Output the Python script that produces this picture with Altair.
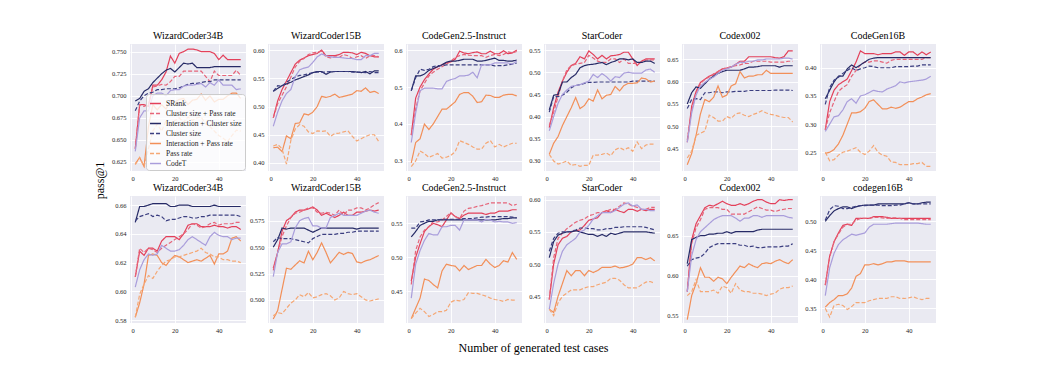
import altair as alt
import pandas as pd

X = [2, 4, 6, 8, 10, 12, 14, 16, 18, 20, 22, 24, 26, 28, 30, 32, 34, 36, 38, 40, 42, 44, 46, 48, 50]
METHODS = ["SRank", "Cluster size + Pass rate", "Interaction + Cluster size", "Cluster size",
           "Interaction + Pass rate", "Pass rate", "CodeT"]
COLORS = ["#e3405a", "#e66479", "#262a66", "#3b3e80", "#f28f58", "#f5a774", "#a99ddb"]
DASHES = [[1, 0], [4, 2], [1, 0], [4, 2], [1, 0], [4, 2], [1, 0]]

TOP_TITLES = ["WizardCoder34B", "WizardCoder15B", "CodeGen2.5-Instruct", "StarCoder", "Codex002", "CodeGen16B"]
BOTTOM_TITLES = ["WizardCoder34B", "WizardCoder15B", "CodeGen2.5-Instruct", "StarCoder", "Codex002", "codegen16B"]

X_TICKS = [0, 20, 40]
TOP_DOMAINS = [[0.6148, 0.7587], [0.3858, 0.6107], [0.2729, 0.6163], [0.2774, 0.5636], [0.401, 0.6834], [0.2168, 0.4421]]
BOTTOM_DOMAINS = [[0.578, 0.6663], [0.4782, 0.5983], [0.4034, 0.5902], [0.4086, 0.6057], [0.5408, 0.6996], [0.3247, 0.5437]]
TOP_TICKS = [[0.625, 0.65, 0.675, 0.7, 0.725, 0.75], [0.4, 0.45, 0.5, 0.55, 0.6], [0.3, 0.4, 0.5, 0.6],
             [0.3, 0.35, 0.4, 0.45, 0.5, 0.55], [0.45, 0.5, 0.55, 0.6, 0.65], [0.25, 0.3, 0.35, 0.4]]
BOTTOM_TICKS = [[0.58, 0.6, 0.62, 0.64, 0.66], [0.5, 0.525, 0.55, 0.575], [0.45, 0.5, 0.55],
                [0.45, 0.5, 0.55, 0.6], [0.55, 0.6, 0.65], [0.35, 0.4, 0.45, 0.5]]
TOP_FORMATS = [".3f", ".2f", ".1f", ".2f", ".2f", ".2f"]
BOTTOM_FORMATS = [".2f", ".3f", ".2f", ".2f", ".2f", ".2f"]

# ---- top row ----
WC34_TOP = {
    "SRank": [0.640, 0.690, 0.690, 0.688, 0.712, 0.712, 0.718, 0.727, 0.745, 0.737, 0.748, 0.750, 0.753, 0.753, 0.752, 0.750, 0.750, 0.750, 0.748, 0.741, 0.746, 0.741, 0.741, 0.741, 0.741],
    "Cluster size + Pass rate": [0.640, 0.690, 0.688, 0.690, 0.710, 0.711, 0.713, 0.712, 0.716, 0.722, 0.722, 0.728, 0.728, 0.728, 0.728, 0.728, 0.722, 0.716, 0.728, 0.723, 0.723, 0.723, 0.723, 0.729, 0.723],
    "Interaction + Cluster size": [0.694, 0.697, 0.705, 0.708, 0.715, 0.720, 0.725, 0.729, 0.731, 0.727, 0.732, 0.737, 0.736, 0.737, 0.732, 0.732, 0.732, 0.732, 0.733, 0.733, 0.733, 0.733, 0.733, 0.733, 0.733],
    "Cluster size": [0.683, 0.694, 0.700, 0.703, 0.704, 0.707, 0.707, 0.708, 0.708, 0.708, 0.709, 0.711, 0.713, 0.714, 0.714, 0.715, 0.716, 0.716, 0.718, 0.718, 0.718, 0.718, 0.718, 0.718, 0.718],
    "Interaction + Pass rate": [0.623, 0.630, 0.620, 0.665, 0.690, 0.684, 0.690, 0.685, 0.695, 0.693, 0.696, 0.697, 0.690, 0.695, 0.696, 0.702, 0.695, 0.700, 0.693, 0.696, 0.696, 0.700, 0.703, 0.703, 0.697],
    "Pass rate": [0.622, 0.630, 0.620, 0.640, 0.660, 0.668, 0.660, 0.672, 0.665, 0.672, 0.675, 0.670, 0.676, 0.672, 0.675, 0.676, 0.668, 0.665, 0.660, 0.655, 0.652, 0.648, 0.655, 0.661, 0.660],
    "CodeT": [0.637, 0.675, 0.683, 0.683, 0.700, 0.703, 0.703, 0.700, 0.706, 0.707, 0.707, 0.711, 0.712, 0.712, 0.713, 0.714, 0.710, 0.715, 0.712, 0.718, 0.712, 0.712, 0.712, 0.707, 0.708],
}
WC15_TOP = {
    "SRank": [0.480, 0.510, 0.530, 0.545, 0.560, 0.575, 0.582, 0.586, 0.590, 0.592, 0.594, 0.600, 0.590, 0.590, 0.590, 0.592, 0.596, 0.596, 0.595, 0.592, 0.596, 0.594, 0.590, 0.588, 0.588],
    "Cluster size + Pass rate": [0.480, 0.505, 0.520, 0.535, 0.552, 0.570, 0.580, 0.585, 0.592, 0.595, 0.596, 0.598, 0.588, 0.586, 0.588, 0.587, 0.592, 0.590, 0.585, 0.588, 0.590, 0.585, 0.590, 0.590, 0.588],
    "Interaction + Cluster size": [0.527, 0.532, 0.537, 0.540, 0.543, 0.547, 0.550, 0.553, 0.556, 0.560, 0.562, 0.562, 0.557, 0.561, 0.562, 0.562, 0.562, 0.562, 0.562, 0.561, 0.560, 0.562, 0.558, 0.563, 0.563],
    "Cluster size": [0.527, 0.537, 0.536, 0.543, 0.548, 0.552, 0.555, 0.556, 0.558, 0.560, 0.561, 0.561, 0.561, 0.562, 0.562, 0.562, 0.562, 0.562, 0.561, 0.561, 0.561, 0.560, 0.562, 0.560, 0.560],
    "Interaction + Pass rate": [0.427, 0.428, 0.420, 0.448, 0.443, 0.470, 0.471, 0.487, 0.485, 0.490, 0.500, 0.518, 0.516, 0.518, 0.522, 0.516, 0.518, 0.520, 0.522, 0.528, 0.527, 0.533, 0.525, 0.527, 0.523],
    "Pass rate": [0.430, 0.433, 0.425, 0.398, 0.440, 0.460, 0.468, 0.465, 0.455, 0.452, 0.457, 0.456, 0.457, 0.447, 0.452, 0.453, 0.455, 0.457, 0.447, 0.439, 0.443, 0.447, 0.450, 0.450, 0.438],
    "CodeT": [0.465, 0.490, 0.510, 0.523, 0.530, 0.553, 0.565, 0.568, 0.570, 0.578, 0.588, 0.593, 0.590, 0.588, 0.587, 0.587, 0.586, 0.585, 0.585, 0.583, 0.583, 0.590, 0.590, 0.594, 0.594],
}
CG25_TOP = {
    "SRank": [0.370, 0.470, 0.500, 0.520, 0.535, 0.548, 0.555, 0.560, 0.565, 0.568, 0.575, 0.597, 0.592, 0.590, 0.593, 0.595, 0.590, 0.590, 0.597, 0.590, 0.590, 0.598, 0.590, 0.592, 0.600],
    "Cluster size + Pass rate": [0.370, 0.440, 0.490, 0.510, 0.530, 0.540, 0.548, 0.555, 0.562, 0.570, 0.580, 0.585, 0.588, 0.586, 0.585, 0.585, 0.585, 0.580, 0.585, 0.588, 0.585, 0.588, 0.595, 0.592, 0.596],
    "Interaction + Cluster size": [0.490, 0.530, 0.530, 0.535, 0.545, 0.550, 0.555, 0.560, 0.567, 0.570, 0.570, 0.572, 0.575, 0.575, 0.575, 0.570, 0.570, 0.572, 0.575, 0.578, 0.572, 0.572, 0.570, 0.570, 0.573],
    "Cluster size": [0.490, 0.525, 0.548, 0.545, 0.548, 0.555, 0.558, 0.558, 0.560, 0.560, 0.560, 0.560, 0.560, 0.560, 0.560, 0.560, 0.560, 0.560, 0.560, 0.557, 0.558, 0.558, 0.560, 0.562, 0.565],
    "Interaction + Pass rate": [0.295, 0.350, 0.360, 0.400, 0.385, 0.400, 0.420, 0.440, 0.440, 0.450, 0.460, 0.480, 0.485, 0.485, 0.475, 0.458, 0.460, 0.478, 0.477, 0.472, 0.472, 0.478, 0.480, 0.480, 0.476],
    "Pass rate": [0.285, 0.300, 0.327, 0.320, 0.310, 0.315, 0.320, 0.308, 0.310, 0.315, 0.325, 0.355, 0.350, 0.345, 0.338, 0.332, 0.332, 0.348, 0.355, 0.338, 0.345, 0.338, 0.343, 0.348, 0.348],
    "CodeT": [0.350, 0.430, 0.490, 0.497, 0.497, 0.497, 0.495, 0.495, 0.515, 0.520, 0.523, 0.530, 0.530, 0.532, 0.540, 0.525, 0.560, 0.560, 0.560, 0.565, 0.565, 0.565, 0.565, 0.562, 0.570],
}
SC_TOP = {
    "SRank": [0.375, 0.420, 0.455, 0.480, 0.500, 0.515, 0.520, 0.535, 0.530, 0.548, 0.540, 0.530, 0.538, 0.530, 0.537, 0.538, 0.540, 0.545, 0.545, 0.530, 0.515, 0.525, 0.530, 0.530, 0.530],
    "Cluster size + Pass rate": [0.380, 0.410, 0.445, 0.480, 0.505, 0.515, 0.518, 0.520, 0.522, 0.538, 0.532, 0.525, 0.522, 0.522, 0.530, 0.530, 0.522, 0.530, 0.520, 0.520, 0.520, 0.522, 0.528, 0.528, 0.528],
    "Interaction + Cluster size": [0.415, 0.448, 0.450, 0.478, 0.478, 0.488, 0.495, 0.510, 0.515, 0.517, 0.518, 0.520, 0.522, 0.517, 0.522, 0.525, 0.530, 0.530, 0.528, 0.530, 0.522, 0.522, 0.525, 0.525, 0.520],
    "Cluster size": [0.410, 0.445, 0.445, 0.448, 0.455, 0.465, 0.470, 0.472, 0.475, 0.477, 0.477, 0.478, 0.478, 0.478, 0.478, 0.478, 0.478, 0.478, 0.478, 0.480, 0.480, 0.480, 0.480, 0.480, 0.480],
    "Interaction + Pass rate": [0.315, 0.340, 0.355, 0.380, 0.400, 0.420, 0.443, 0.418, 0.425, 0.440, 0.435, 0.460, 0.440, 0.448, 0.450, 0.468, 0.458, 0.470, 0.475, 0.475, 0.476, 0.487, 0.485, 0.478, 0.480],
    "Pass rate": [0.315, 0.300, 0.293, 0.296, 0.300, 0.290, 0.292, 0.288, 0.290, 0.290, 0.313, 0.313, 0.315, 0.318, 0.312, 0.325, 0.330, 0.325, 0.330, 0.322, 0.343, 0.328, 0.336, 0.338, 0.338],
    "CodeT": [0.368, 0.400, 0.430, 0.450, 0.460, 0.468, 0.470, 0.472, 0.476, 0.480, 0.495, 0.488, 0.497, 0.490, 0.480, 0.490, 0.488, 0.498, 0.500, 0.498, 0.498, 0.498, 0.505, 0.507, 0.500],
}
CX_TOP = {
    "SRank": [0.465, 0.545, 0.578, 0.598, 0.605, 0.612, 0.615, 0.622, 0.628, 0.630, 0.632, 0.638, 0.645, 0.645, 0.655, 0.655, 0.655, 0.655, 0.655, 0.655, 0.653, 0.652, 0.655, 0.668, 0.668],
    "Cluster size + Pass rate": [0.470, 0.535, 0.575, 0.595, 0.605, 0.610, 0.617, 0.622, 0.628, 0.630, 0.633, 0.635, 0.637, 0.640, 0.640, 0.645, 0.645, 0.645, 0.645, 0.643, 0.643, 0.643, 0.643, 0.645, 0.645],
    "Interaction + Cluster size": [0.550, 0.575, 0.588, 0.585, 0.595, 0.605, 0.612, 0.618, 0.622, 0.625, 0.625, 0.625, 0.625, 0.628, 0.632, 0.632, 0.633, 0.635, 0.635, 0.635, 0.635, 0.632, 0.635, 0.635, 0.635],
    "Cluster size": [0.540, 0.560, 0.562, 0.560, 0.575, 0.575, 0.577, 0.577, 0.575, 0.577, 0.577, 0.578, 0.578, 0.578, 0.580, 0.580, 0.580, 0.580, 0.580, 0.580, 0.581, 0.581, 0.581, 0.581, 0.580],
    "Interaction + Pass rate": [0.415, 0.440, 0.480, 0.528, 0.560, 0.555, 0.565, 0.590, 0.565, 0.570, 0.590, 0.595, 0.622, 0.608, 0.612, 0.612, 0.615, 0.615, 0.625, 0.618, 0.618, 0.618, 0.618, 0.618, 0.618],
    "Pass rate": [0.430, 0.445, 0.480, 0.485, 0.490, 0.525, 0.520, 0.512, 0.512, 0.522, 0.518, 0.528, 0.530, 0.525, 0.522, 0.527, 0.530, 0.535, 0.530, 0.527, 0.525, 0.522, 0.520, 0.520, 0.510],
    "CodeT": [0.465, 0.530, 0.570, 0.590, 0.598, 0.605, 0.610, 0.618, 0.625, 0.628, 0.632, 0.638, 0.643, 0.642, 0.645, 0.645, 0.648, 0.648, 0.650, 0.650, 0.650, 0.650, 0.652, 0.652, 0.650],
}
CG16_TOP = {
    "SRank": [0.290, 0.340, 0.360, 0.370, 0.375, 0.380, 0.395, 0.410, 0.430, 0.425, 0.425, 0.425, 0.423, 0.425, 0.425, 0.425, 0.428, 0.428, 0.422, 0.428, 0.428, 0.422, 0.428, 0.423, 0.428],
    "Cluster size + Pass rate": [0.290, 0.320, 0.340, 0.358, 0.365, 0.370, 0.385, 0.395, 0.405, 0.410, 0.410, 0.412, 0.412, 0.410, 0.408, 0.413, 0.415, 0.415, 0.415, 0.415, 0.415, 0.415, 0.415, 0.418, 0.418],
    "Interaction + Cluster size": [0.345, 0.360, 0.375, 0.385, 0.385, 0.398, 0.405, 0.400, 0.405, 0.410, 0.415, 0.417, 0.418, 0.418, 0.418, 0.418, 0.418, 0.418, 0.418, 0.418, 0.418, 0.418, 0.418, 0.418, 0.418],
    "Cluster size": [0.335, 0.365, 0.378, 0.383, 0.390, 0.395, 0.400, 0.395, 0.398, 0.400, 0.403, 0.402, 0.400, 0.400, 0.400, 0.400, 0.402, 0.402, 0.402, 0.402, 0.403, 0.403, 0.405, 0.405, 0.405],
    "Interaction + Pass rate": [0.248, 0.250, 0.255, 0.265, 0.280, 0.300, 0.320, 0.320, 0.322, 0.328, 0.340, 0.343, 0.335, 0.327, 0.327, 0.330, 0.328, 0.330, 0.335, 0.340, 0.340, 0.345, 0.348, 0.352, 0.354],
    "Pass rate": [0.250, 0.235, 0.237, 0.245, 0.250, 0.252, 0.255, 0.258, 0.250, 0.246, 0.252, 0.262, 0.250, 0.245, 0.243, 0.233, 0.232, 0.228, 0.228, 0.228, 0.230, 0.230, 0.232, 0.225, 0.225],
    "CodeT": [0.287, 0.300, 0.313, 0.315, 0.325, 0.340, 0.345, 0.337, 0.350, 0.352, 0.356, 0.360, 0.358, 0.357, 0.362, 0.365, 0.368, 0.375, 0.373, 0.375, 0.376, 0.377, 0.378, 0.380, 0.385],
}

# ---- bottom row ----
WC34_BOT = {
    "SRank": [0.610, 0.628, 0.625, 0.630, 0.630, 0.628, 0.635, 0.638, 0.638, 0.638, 0.636, 0.640, 0.646, 0.647, 0.647, 0.645, 0.645, 0.645, 0.646, 0.645, 0.645, 0.644, 0.645, 0.645, 0.643],
    "Cluster size + Pass rate": [0.610, 0.630, 0.627, 0.630, 0.629, 0.627, 0.630, 0.632, 0.634, 0.636, 0.638, 0.640, 0.643, 0.647, 0.646, 0.644, 0.645, 0.647, 0.648, 0.646, 0.647, 0.647, 0.647, 0.648, 0.648],
    "Interaction + Cluster size": [0.648, 0.659, 0.659, 0.660, 0.661, 0.661, 0.661, 0.661, 0.659, 0.659, 0.660, 0.660, 0.660, 0.659, 0.659, 0.659, 0.659, 0.659, 0.660, 0.659, 0.659, 0.659, 0.659, 0.659, 0.659],
    "Cluster size": [0.649, 0.652, 0.653, 0.654, 0.652, 0.653, 0.652, 0.649, 0.650, 0.650, 0.651, 0.652, 0.652, 0.651, 0.651, 0.652, 0.652, 0.653, 0.653, 0.653, 0.653, 0.653, 0.653, 0.653, 0.652],
    "Interaction + Pass rate": [0.582, 0.592, 0.605, 0.625, 0.626, 0.625, 0.620, 0.618, 0.622, 0.625, 0.624, 0.622, 0.620, 0.621, 0.622, 0.621, 0.623, 0.625, 0.619, 0.626, 0.626, 0.628, 0.637, 0.638, 0.635],
    "Pass rate": [0.582, 0.598, 0.605, 0.611, 0.609, 0.614, 0.618, 0.621, 0.622, 0.624, 0.624, 0.625, 0.626, 0.627, 0.628, 0.630, 0.627, 0.626, 0.624, 0.624, 0.622, 0.622, 0.621, 0.621, 0.620],
    "CodeT": [0.603, 0.615, 0.622, 0.626, 0.625, 0.626, 0.632, 0.630, 0.628, 0.628, 0.629, 0.632, 0.636, 0.638, 0.636, 0.634, 0.632, 0.638, 0.641, 0.639, 0.638, 0.638, 0.636, 0.637, 0.637],
}
WC15_BOT = {
    "SRank": [0.530, 0.545, 0.565, 0.575, 0.578, 0.583, 0.585, 0.585, 0.586, 0.588, 0.585, 0.580, 0.582, 0.580, 0.578, 0.580, 0.583, 0.580, 0.580, 0.583, 0.583, 0.584, 0.585, 0.584, 0.585],
    "Cluster size + Pass rate": [0.528, 0.545, 0.560, 0.570, 0.578, 0.582, 0.583, 0.585, 0.587, 0.587, 0.583, 0.582, 0.583, 0.582, 0.580, 0.585, 0.580, 0.585, 0.585, 0.587, 0.587, 0.585, 0.587, 0.590, 0.592],
    "Interaction + Cluster size": [0.550, 0.557, 0.568, 0.567, 0.568, 0.568, 0.568, 0.568, 0.566, 0.564, 0.566, 0.568, 0.568, 0.568, 0.568, 0.568, 0.568, 0.568, 0.568, 0.567, 0.568, 0.568, 0.568, 0.568, 0.568],
    "Cluster size": [0.555, 0.559, 0.558, 0.558, 0.558, 0.557, 0.556, 0.555, 0.554, 0.558, 0.560, 0.562, 0.562, 0.562, 0.562, 0.563, 0.563, 0.564, 0.564, 0.565, 0.565, 0.565, 0.565, 0.565, 0.565],
    "Interaction + Pass rate": [0.482, 0.490, 0.510, 0.530, 0.529, 0.533, 0.537, 0.535, 0.546, 0.538, 0.545, 0.554, 0.545, 0.535, 0.540, 0.545, 0.543, 0.545, 0.544, 0.536, 0.535, 0.537, 0.538, 0.540, 0.542],
    "Pass rate": [0.485, 0.488, 0.487, 0.492, 0.497, 0.500, 0.505, 0.503, 0.507, 0.502, 0.503, 0.505, 0.506, 0.504, 0.500, 0.502, 0.508, 0.506, 0.505, 0.506, 0.503, 0.500, 0.499, 0.500, 0.501],
    "CodeT": [0.522, 0.545, 0.553, 0.553, 0.555, 0.568, 0.575, 0.577, 0.578, 0.570, 0.570, 0.568, 0.568, 0.578, 0.580, 0.582, 0.580, 0.580, 0.580, 0.580, 0.582, 0.584, 0.585, 0.583, 0.582],
}
CG25_BOT = {
    "SRank": [0.465, 0.500, 0.520, 0.538, 0.545, 0.550, 0.548, 0.545, 0.555, 0.565, 0.560, 0.557, 0.562, 0.565, 0.565, 0.565, 0.565, 0.563, 0.565, 0.565, 0.568, 0.568, 0.568, 0.570, 0.570],
    "Cluster size + Pass rate": [0.460, 0.510, 0.530, 0.540, 0.545, 0.553, 0.552, 0.555, 0.560, 0.566, 0.560, 0.557, 0.568, 0.572, 0.573, 0.575, 0.576, 0.578, 0.580, 0.580, 0.580, 0.580, 0.580, 0.576, 0.578],
    "Interaction + Cluster size": [0.530, 0.538, 0.547, 0.550, 0.553, 0.553, 0.555, 0.555, 0.555, 0.555, 0.555, 0.555, 0.555, 0.555, 0.555, 0.555, 0.555, 0.555, 0.555, 0.555, 0.556, 0.557, 0.557, 0.558, 0.558],
    "Cluster size": [0.543, 0.543, 0.552, 0.553, 0.555, 0.555, 0.555, 0.556, 0.556, 0.556, 0.556, 0.556, 0.557, 0.557, 0.557, 0.558, 0.559, 0.559, 0.560, 0.560, 0.560, 0.560, 0.560, 0.559, 0.558],
    "Interaction + Pass rate": [0.410, 0.425, 0.440, 0.468, 0.466, 0.460, 0.455, 0.480, 0.490, 0.488, 0.487, 0.480, 0.488, 0.482, 0.485, 0.488, 0.488, 0.497, 0.490, 0.485, 0.488, 0.495, 0.493, 0.507, 0.497],
    "Pass rate": [0.410, 0.418, 0.425, 0.420, 0.413, 0.416, 0.420, 0.420, 0.422, 0.434, 0.437, 0.436, 0.438, 0.448, 0.447, 0.447, 0.445, 0.443, 0.440, 0.438, 0.437, 0.435, 0.438, 0.437, 0.437],
    "CodeT": [0.440, 0.490, 0.510, 0.525, 0.535, 0.533, 0.533, 0.545, 0.545, 0.547, 0.547, 0.540, 0.555, 0.555, 0.555, 0.555, 0.552, 0.556, 0.555, 0.552, 0.553, 0.552, 0.552, 0.550, 0.551],
}
SC_BOT = {
    "SRank": [0.445, 0.500, 0.530, 0.540, 0.543, 0.550, 0.552, 0.553, 0.560, 0.568, 0.570, 0.572, 0.580, 0.583, 0.580, 0.585, 0.582, 0.580, 0.585, 0.585, 0.582, 0.585, 0.583, 0.585, 0.585],
    "Cluster size + Pass rate": [0.445, 0.510, 0.540, 0.548, 0.555, 0.560, 0.565, 0.568, 0.570, 0.575, 0.577, 0.580, 0.580, 0.582, 0.585, 0.585, 0.590, 0.595, 0.593, 0.590, 0.588, 0.585, 0.585, 0.588, 0.588],
    "Interaction + Cluster size": [0.510, 0.535, 0.545, 0.548, 0.550, 0.550, 0.552, 0.550, 0.548, 0.546, 0.546, 0.543, 0.546, 0.543, 0.548, 0.546, 0.548, 0.550, 0.550, 0.550, 0.550, 0.550, 0.550, 0.549, 0.548],
    "Cluster size": [0.520, 0.540, 0.548, 0.550, 0.550, 0.551, 0.553, 0.556, 0.556, 0.555, 0.555, 0.553, 0.553, 0.555, 0.555, 0.557, 0.557, 0.558, 0.558, 0.558, 0.558, 0.558, 0.557, 0.555, 0.553],
    "Interaction + Pass rate": [0.430, 0.425, 0.450, 0.470, 0.490, 0.482, 0.490, 0.490, 0.482, 0.490, 0.487, 0.490, 0.495, 0.495, 0.495, 0.497, 0.494, 0.495, 0.497, 0.500, 0.510, 0.510, 0.507, 0.510, 0.505],
    "Pass rate": [0.430, 0.420, 0.440, 0.450, 0.455, 0.460, 0.460, 0.460, 0.463, 0.465, 0.465, 0.468, 0.470, 0.472, 0.478, 0.478, 0.475, 0.468, 0.463, 0.463, 0.463, 0.468, 0.472, 0.473, 0.470],
    "CodeT": [0.430, 0.470, 0.500, 0.520, 0.530, 0.535, 0.540, 0.550, 0.553, 0.560, 0.570, 0.575, 0.580, 0.580, 0.580, 0.583, 0.588, 0.593, 0.595, 0.590, 0.592, 0.585, 0.585, 0.583, 0.583],
}
CX_BOT = {
    "SRank": [0.580, 0.645, 0.665, 0.675, 0.685, 0.688, 0.687, 0.690, 0.693, 0.690, 0.688, 0.688, 0.690, 0.688, 0.690, 0.693, 0.695, 0.695, 0.692, 0.690, 0.690, 0.695, 0.694, 0.695, 0.695],
    "Cluster size + Pass rate": [0.580, 0.640, 0.660, 0.670, 0.683, 0.685, 0.685, 0.685, 0.683, 0.683, 0.677, 0.677, 0.677, 0.677, 0.680, 0.683, 0.686, 0.684, 0.682, 0.682, 0.680, 0.682, 0.683, 0.684, 0.684],
    "Interaction + Cluster size": [0.615, 0.645, 0.648, 0.650, 0.650, 0.652, 0.652, 0.653, 0.653, 0.655, 0.653, 0.655, 0.655, 0.655, 0.655, 0.655, 0.657, 0.658, 0.658, 0.658, 0.658, 0.658, 0.658, 0.658, 0.658],
    "Cluster size": [0.612, 0.620, 0.622, 0.623, 0.628, 0.635, 0.638, 0.640, 0.640, 0.640, 0.640, 0.640, 0.638, 0.638, 0.636, 0.637, 0.635, 0.635, 0.636, 0.636, 0.636, 0.636, 0.637, 0.637, 0.640],
    "Interaction + Pass rate": [0.545, 0.575, 0.590, 0.610, 0.598, 0.598, 0.593, 0.598, 0.596, 0.590, 0.598, 0.605, 0.612, 0.610, 0.615, 0.612, 0.610, 0.615, 0.616, 0.615, 0.618, 0.620, 0.617, 0.615, 0.620],
    "Pass rate": [0.575, 0.580, 0.595, 0.580, 0.580, 0.580, 0.582, 0.578, 0.587, 0.585, 0.578, 0.590, 0.582, 0.580, 0.580, 0.578, 0.578, 0.577, 0.575, 0.577, 0.578, 0.583, 0.585, 0.585, 0.587],
    "CodeT": [0.580, 0.625, 0.645, 0.655, 0.660, 0.665, 0.670, 0.673, 0.675, 0.675, 0.675, 0.672, 0.668, 0.672, 0.672, 0.675, 0.675, 0.673, 0.675, 0.675, 0.675, 0.675, 0.675, 0.673, 0.672],
}
CG16_BOT = {
    "SRank": [0.390, 0.440, 0.465, 0.480, 0.493, 0.495, 0.493, 0.505, 0.505, 0.505, 0.505, 0.508, 0.508, 0.508, 0.507, 0.505, 0.505, 0.505, 0.505, 0.505, 0.505, 0.505, 0.505, 0.505, 0.505],
    "Cluster size + Pass rate": [0.390, 0.438, 0.465, 0.478, 0.490, 0.495, 0.495, 0.502, 0.505, 0.505, 0.505, 0.507, 0.507, 0.506, 0.505, 0.506, 0.506, 0.505, 0.503, 0.503, 0.503, 0.503, 0.503, 0.503, 0.503],
    "Interaction + Cluster size": [0.500, 0.510, 0.518, 0.522, 0.525, 0.525, 0.522, 0.525, 0.527, 0.528, 0.528, 0.528, 0.530, 0.530, 0.530, 0.530, 0.530, 0.530, 0.530, 0.532, 0.530, 0.530, 0.532, 0.533, 0.533],
    "Cluster size": [0.502, 0.520, 0.527, 0.526, 0.522, 0.522, 0.524, 0.526, 0.527, 0.527, 0.528, 0.528, 0.528, 0.527, 0.527, 0.527, 0.528, 0.528, 0.530, 0.532, 0.530, 0.530, 0.530, 0.530, 0.530],
    "Interaction + Pass rate": [0.352, 0.360, 0.365, 0.372, 0.372, 0.375, 0.385, 0.405, 0.410, 0.425, 0.425, 0.427, 0.425, 0.427, 0.430, 0.430, 0.432, 0.432, 0.432, 0.430, 0.430, 0.430, 0.430, 0.430, 0.430],
    "Pass rate": [0.350, 0.335, 0.355, 0.357, 0.355, 0.348, 0.353, 0.360, 0.360, 0.360, 0.363, 0.365, 0.367, 0.367, 0.367, 0.370, 0.370, 0.367, 0.367, 0.368, 0.370, 0.367, 0.365, 0.367, 0.367],
    "CodeT": [0.372, 0.420, 0.445, 0.460, 0.468, 0.473, 0.478, 0.476, 0.478, 0.480, 0.490, 0.495, 0.495, 0.495, 0.495, 0.496, 0.497, 0.497, 0.497, 0.497, 0.497, 0.497, 0.496, 0.495, 0.495],
}

TOP_DATA = [WC34_TOP, WC15_TOP, CG25_TOP, SC_TOP, CX_TOP, CG16_TOP]
BOTTOM_DATA = [WC34_BOT, WC15_BOT, CG25_BOT, SC_BOT, CX_BOT, CG16_BOT]

SERIF = "Liberation Serif"
PANEL_W = 116
PANEL_H = 127


def frame(data):
    rows = []
    for m in METHODS:
        for xi, v in zip(X, data[m]):
            rows.append({"x": xi, "v": v, "method": m})
    return pd.DataFrame(rows)


def panel(data, title, domain, ticks, fmt, legend=False, ytitle=False, xtitle=False):
    if ytitle:
        yaxis = alt.Axis(values=ticks, format=fmt, title="pass@1", titleX=-24, titleY=136,
                         titleAngle=270, titleAlign="center", titleBaseline="bottom",
                         titleFont=SERIF, titleFontSize=12, titleFontWeight="normal",
                         titleColor="#000000")
    else:
        yaxis = alt.Axis(values=ticks, format=fmt, title=None)
    if xtitle:
        xaxis = alt.Axis(values=X_TICKS, format="d", title="Number of generated test cases",
                         titleX=PANEL_W + 11, titleY=19, titleAlign="center", titleBaseline="top",
                         titleFont=SERIF, titleFontSize=12, titleFontWeight="normal",
                         titleColor="#000000")
    else:
        xaxis = alt.Axis(values=X_TICKS, format="d", title=None)
    if legend:
        leg = alt.Legend(orient="bottom-right", title=None, labelFont=SERIF, labelFontSize=7.5,
                         labelColor="#262626", symbolType="stroke", symbolSize=120,
                         symbolStrokeWidth=1.3, fillColor="rgba(255,255,255,0.8)",
                         strokeColor="#cccccc", cornerRadius=3, padding=3, rowPadding=0,
                         offset=1, labelLimit=200, labelOffset=4)
        color = alt.Color("method:N", scale=alt.Scale(domain=METHODS, range=COLORS), legend=leg)
        dash = alt.StrokeDash("method:N", scale=alt.Scale(domain=METHODS, range=DASHES), legend=leg)
    else:
        color = alt.Color("method:N", scale=alt.Scale(domain=METHODS, range=COLORS), legend=None)
        dash = alt.StrokeDash("method:N", scale=alt.Scale(domain=METHODS, range=DASHES), legend=None)
    return alt.Chart(frame(data)).mark_line(strokeWidth=1.2, clip=True).encode(
        x=alt.X("x:Q", scale=alt.Scale(domain=[-0.4, 52.4], nice=False, zero=False), axis=xaxis),
        y=alt.Y("v:Q", scale=alt.Scale(domain=domain, nice=False, zero=False), axis=yaxis),
        color=color,
        strokeDash=dash,
    ).properties(
        width=PANEL_W, height=PANEL_H,
        title=alt.TitleParams(title, font=SERIF, fontSize=10, fontWeight="normal",
                              color="#000000", offset=3),
    )


top = [panel(TOP_DATA[i], TOP_TITLES[i], TOP_DOMAINS[i], TOP_TICKS[i], TOP_FORMATS[i],
             legend=(i == 0), ytitle=(i == 0)) for i in range(6)]
bottom = [panel(BOTTOM_DATA[i], BOTTOM_TITLES[i], BOTTOM_DOMAINS[i], BOTTOM_TICKS[i], BOTTOM_FORMATS[i],
                xtitle=(i == 2)) for i in range(6)]

chart = alt.concat(*(top + bottom), columns=6, spacing={"row": 25, "column": 22}, bounds="flush").resolve_scale(
    color="independent", strokeDash="independent"
).resolve_legend(
    color="independent", strokeDash="independent"
).properties(
    padding={"left": 85, "top": 23, "right": 5, "bottom": 5},
    background="#ffffff",
).configure_view(
    fill="#EAEAF2", strokeWidth=0
).configure_axis(
    grid=True, gridColor="#ffffff", gridWidth=0.9, domain=False, ticks=False,
    labelFont=SERIF, labelFontSize=6.5, labelColor="#262626", labelPadding=4,
)

chart.save("out.html", embed_options={"renderer": "svg", "actions": False})
